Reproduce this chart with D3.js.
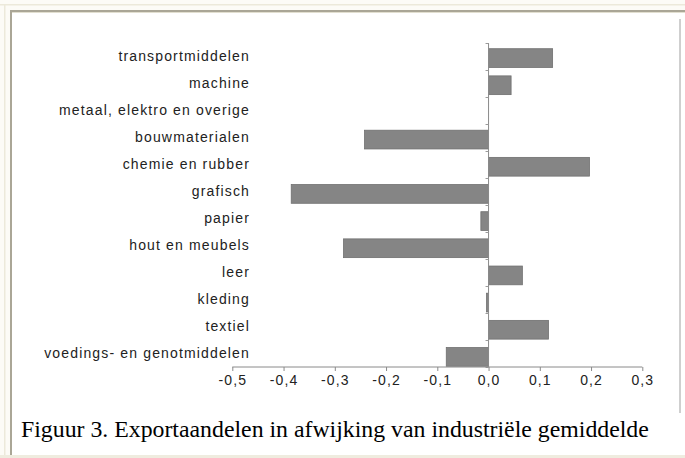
<!DOCTYPE html>
<html>
<head>
<meta charset="utf-8">
<script src="https://cdn.jsdelivr.net/npm/d3@7"></script>
<style>
  html, body { margin: 0; padding: 0; background: #fcfbf6; }
  svg { display: block; }
</style>
</head>
<body>
<div class="chart"></div>
<script>
// data (top to bottom)
const categories = [
  "transportmiddelen",
  "machine",
  "metaal, elektro en overige",
  "bouwmaterialen",
  "chemie en rubber",
  "grafisch",
  "papier",
  "hout en meubels",
  "leer",
  "kleding",
  "textiel",
  "voedings- en genotmiddelen"
];
const values = [0.125, 0.044, 0, -0.242, 0.197, -0.385, -0.015, -0.283, 0.066, -0.004, 0.117, -0.0825];
const tickValues = [-0.5, -0.4, -0.3, -0.2, -0.1, 0.0, 0.1, 0.2, 0.3];
const caption = "Figuur 3. Exportaandelen in afwijking van industriële gemiddelde";

const width = 685, height = 458;

const svg = d3.select(".chart").append("svg")
  .attr("width", width)
  .attr("height", height);

// page frame
svg.append("rect").attr("x", 0).attr("y", 4).attr("width", width).attr("height", 1.5).attr("fill", "#ece9da");
svg.append("rect").attr("x", 4).attr("y", 4).attr("width", 1.5).attr("height", height).attr("fill", "#ece9da");
svg.append("rect").attr("x", 10).attr("y", 10).attr("width", width - 10).attr("height", 445).attr("fill", "#fff");
svg.append("rect").attr("x", 10).attr("y", 10).attr("width", width - 10).attr("height", 2).attr("fill", "#aaa696");
svg.append("rect").attr("x", 10).attr("y", 10).attr("width", 2).attr("height", 445).attr("fill", "#aaa696");
svg.append("rect").attr("x", 12).attr("y", 12).attr("width", width - 12).attr("height", 1).attr("fill", "#e2dfd0");
svg.append("rect").attr("x", 0).attr("y", 455).attr("width", width).attr("height", 3).attr("fill", "#efecdf");

// chart image right edge
svg.append("rect").attr("x", 679).attr("y", 19).attr("width", 2).attr("height", 394).attr("fill", "#cfcfcf");

// scales
const x = d3.scaleLinear()
  .domain([-0.5, 0.3])
  .range([232.3, 642.3]);

const yAxisTop = 43, yAxisBottom = 367;

const yLab = d3.scaleBand()
  .domain(categories)
  .range([yAxisTop, yAxisBottom]);

const yBar = d3.scaleBand()
  .domain(categories)
  .range([44.5, 370.5])
  .paddingInner(0.31)
  .paddingOuter(0.155);

const yTicks = d3.scaleLinear()
  .domain([0, categories.length])
  .range([yAxisTop, yAxisBottom]);

const g = svg.append("g");

// bars
g.append("g")
  .selectAll("rect")
  .data(values)
  .enter()
  .append("rect")
  .attr("x", d => x(Math.min(0, d)))
  .attr("y", (d, i) => yBar(categories[i]))
  .attr("width", d => Math.abs(x(d) - x(0)))
  .attr("height", yBar.bandwidth())
  .attr("fill", "#858585")
  .attr("stroke", "#707070")
  .attr("stroke-width", 0.8);

// y axis (vertical line at zero)
const yAxis = g.append("g")
  .attr("transform", "translate(" + x(0) + ",0)")
  .call(d3.axisLeft(yTicks).ticks(12).tickSize(3).tickFormat(""));
yAxis.select(".domain").attr("stroke", "#8a8a8a").attr("d", "M0," + yAxisTop + "V" + yAxisBottom);
yAxis.selectAll(".tick line").attr("stroke", "#9a9a9a");

// x axis
const xAxis = g.append("g")
  .attr("transform", "translate(0," + yAxisBottom + ")")
  .call(d3.axisBottom(x)
    .tickValues(tickValues)
    .tickSize(4)
    .tickPadding(4)
    .tickFormat(d => d3.format(".1f")(d).replace(".", ",").replace("−", "-")));
xAxis.select(".domain").attr("stroke", "#8a8a8a").attr("d", "M" + x(-0.5) + ",0H" + x(0.3));
xAxis.selectAll(".tick line").attr("stroke", "#8a8a8a");
xAxis.selectAll("text")
  .attr("font-family", "'Liberation Sans', Arial, sans-serif")
  .attr("font-size", 14)
  .attr("letter-spacing", "1.1px")
  .attr("fill", "#222");

// category labels
g.append("g")
  .selectAll("text")
  .data(categories)
  .enter()
  .append("text")
  .attr("x", 250)
  .attr("y", d => yLab(d) + yLab.bandwidth() / 2)
  .attr("dy", "0.35em")
  .attr("text-anchor", "end")
  .attr("font-family", "'Liberation Sans', Arial, sans-serif")
  .attr("font-size", 14)
  .attr("letter-spacing", "1.15px")
  .attr("fill", "#222")
  .text(d => d);

// caption
svg.append("text")
  .attr("x", 21)
  .attr("y", 437)
  .attr("font-family", "'Liberation Serif', 'Times New Roman', serif")
  .attr("font-size", 23.8)
  .attr("fill", "#000")
  .text(caption);
</script>
</body>
</html>
